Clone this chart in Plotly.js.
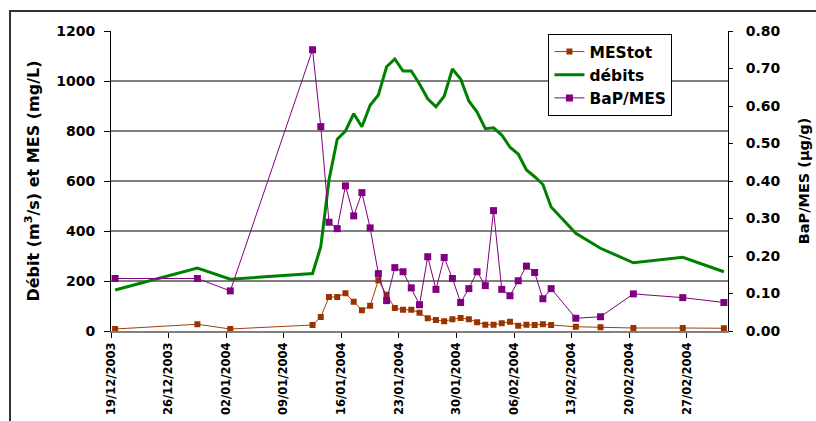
<!DOCTYPE html>
<html>
<head>
<meta charset="utf-8">
<script src="https://cdn.plot.ly/plotly-3.0.1.min.js"></script>
<style>
  html, body { margin: 0; padding: 0; background: #fff; overflow: hidden; }
  #wrap { position: relative; width: 816px; height: 421px; overflow: hidden; }
  #chart { position: absolute; left: 0; top: 0; width: 816px; height: 421px; }
  #frame { position: absolute; left: 9px; top: 10px; width: 900px; height: 500px;
           border: 2px solid #333; pointer-events: none; }
</style>
</head>
<body>
<div id="wrap"><div id="chart"></div><div id="frame"></div></div>
<script>
// Sampling dates (daily during the flood, sparse before and after)
const sampleDates = [
  '2003-12-19', '2003-12-29', '2004-01-02',
  '2004-01-12', '2004-01-13', '2004-01-14', '2004-01-15', '2004-01-16',
  '2004-01-17', '2004-01-18', '2004-01-19', '2004-01-20', '2004-01-21',
  '2004-01-22', '2004-01-23', '2004-01-24', '2004-01-25', '2004-01-26',
  '2004-01-27', '2004-01-28', '2004-01-29', '2004-01-30', '2004-01-31',
  '2004-02-01', '2004-02-02', '2004-02-03', '2004-02-04', '2004-02-05',
  '2004-02-06', '2004-02-07', '2004-02-08', '2004-02-09', '2004-02-10',
  '2004-02-13', '2004-02-16', '2004-02-20', '2004-02-26', '2004-03-02'
];

// Total suspended matter (mg/L)
const mesTot = [
  8, 27, 8,
  24, 56, 136, 136, 151,
  117, 83, 101, 203, 145,
  92, 85, 85, 73, 51,
  44, 39, 47, 52, 47,
  35, 25, 25, 31, 37,
  21, 25, 24, 27, 24,
  17, 15, 12, 12, 11
];

// River discharge (m3/s)
const debits = [
  164, 252, 207,
  230, 337, 604, 767, 800,
  869, 817, 903, 944, 1057,
  1088, 1040, 1040, 988, 929,
  897, 939, 1048, 1008, 920,
  876, 809, 813, 784, 735,
  708, 644, 617, 586, 496,
  391, 331, 273, 295, 237
];

// Benzo(a)pyrene per suspended matter (µg/g)
const bapMes = [
  0.14, 0.14, 0.107,
  0.75, 0.545, 0.29, 0.273, 0.387,
  0.307, 0.369, 0.275, 0.153, 0.081,
  0.169, 0.158, 0.115, 0.07, 0.198,
  0.111, 0.196, 0.14, 0.076, 0.113,
  0.158, 0.121, 0.321, 0.111, 0.094,
  0.134, 0.173, 0.156, 0.086, 0.113,
  0.034, 0.038, 0.099, 0.089, 0.076
];

// Each daily value is plotted at the middle of its day
const xMid = sampleDates.map(d => d + ' 12:00');

const FONT = 'DejaVu Sans, Verdana, sans-serif';

const traces = [
  {
    name: 'MEStot', x: xMid, y: mesTot, yaxis: 'y', type: 'scatter',
    mode: 'lines+markers',
    line: { color: '#A0400A', width: 1 },
    marker: { symbol: 'square', size: 6, color: '#993300' }
  },
  {
    name: 'débits', x: xMid, y: debits, yaxis: 'y', type: 'scatter',
    mode: 'lines',
    line: { color: '#008000', width: 3 }
  },
  {
    name: 'BaP/MES', x: xMid, y: bapMes, yaxis: 'y2', type: 'scatter',
    mode: 'lines+markers',
    line: { color: '#800080', width: 1 },
    marker: { symbol: 'square', size: 7, color: '#800080' }
  }
];

const layout = {
  width: 816, height: 421,
  margin: { l: 111, r: 88, t: 31, b: 90 },
  paper_bgcolor: '#fff', plot_bgcolor: '#fff',
  font: { family: FONT, weight: 'bold', size: 14, color: '#000' },
  showlegend: true,
  legend: {
    x: 0.709, y: 0.99, xanchor: 'left', yanchor: 'top',
    bgcolor: '#fff', bordercolor: '#000', borderwidth: 1,
    font: { family: FONT, weight: 'bold', size: 15.5, color: '#000' }
  },
  xaxis: {
    type: 'date', automargin: false,
    range: ['2003-12-19', '2004-03-03'],
    tick0: '2003-12-19', dtick: 7 * 86400000,
    tickformat: '%d/%m/%Y', tickangle: -90,
    tickfont: { family: FONT, weight: 'bold', size: 11.5 },
    ticks: 'outside', ticklen: 5, tickcolor: '#000', tickwidth: 1,
    showline: true, linecolor: '#808080', linewidth: 2,
    showgrid: false, zeroline: false
  },
  yaxis: {
    automargin: false,
    range: [0, 1200], dtick: 200,
    tickfont: { family: FONT, weight: 'bold', size: 14 },
    ticks: 'outside', ticklen: 6, tickcolor: '#000', tickwidth: 1,
    ticklabelstandoff: 6,
    showline: true, linecolor: '#000', linewidth: 1,
    showgrid: true, gridcolor: '#808080', gridwidth: 1.5,
    zeroline: false,
    title: { text: 'Débit (m<sup>3</sup>/s) et MES (mg/L)', standoff: 12,
             font: { family: FONT, weight: 'bold', size: 16 } }
  },
  yaxis2: {
    overlaying: 'y', side: 'right', anchor: 'x', automargin: false,
    range: [0, 0.8], dtick: 0.1, tickformat: '.2f',
    tickfont: { family: FONT, weight: 'bold', size: 14 },
    ticks: 'outside', ticklen: 4, tickcolor: '#000', tickwidth: 1,
    ticklabelstandoff: 10,
    showline: true, linecolor: '#000', linewidth: 1,
    showgrid: false, zeroline: false,
    title: { text: 'BaP/MES (µg/g)', standoff: 19,
             font: { family: FONT, weight: 'bold', size: 14.5 } }
  },
  // inner half of the crossing tick marks on the right axis
  yaxis3: {
    overlaying: 'y', side: 'right', anchor: 'x', automargin: false,
    range: [0, 0.8], dtick: 0.1,
    ticks: 'inside', ticklen: 5, tickcolor: '#000', tickwidth: 1,
    showticklabels: false, showline: false, showgrid: false, zeroline: false
  }
};

Plotly.newPlot('chart', traces, layout, { displayModeBar: false, staticPlot: true });
</script>
</body>
</html>
